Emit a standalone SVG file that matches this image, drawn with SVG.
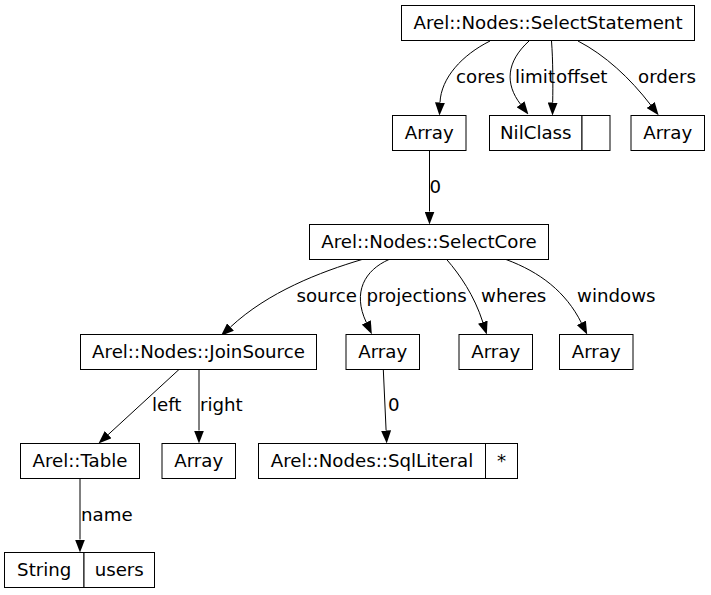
<svg xmlns="http://www.w3.org/2000/svg" width="711" height="595" viewBox="0 0 711 595">
<defs>
<style>
.box{fill:#fff;stroke:#000;stroke-width:1}
.t{font-family:"DejaVu Sans",sans-serif;font-size:18.2px;fill:#000;text-anchor:middle}
.l{font-family:"DejaVu Sans",sans-serif;font-size:18.2px;fill:#000;text-anchor:start}
.e{fill:none;stroke:#000;stroke-width:1}
</style>
<marker id="ah" markerUnits="userSpaceOnUse" viewBox="0 0 13 10" refX="0" refY="5" markerWidth="13" markerHeight="10" orient="auto">
<path d="M0,0 L13,5 L0,10 z" fill="#000"/>
</marker>
</defs>
<rect width="711" height="595" fill="#fff"/>

<g id="connectors">
<path class="e" marker-end="url(#ah)" d="M490,41 C462,55 441,78 440,102.5"/>
<path class="e" marker-end="url(#ah)" d="M529,41 C506,62 505,84 520.5,104.2"/>
<path class="e" marker-end="url(#ah)" d="M551.5,41 C553,60 553,85 552.7,102.5"/>
<path class="e" marker-end="url(#ah)" d="M578,41 C605,55 630,78 650.7,105"/>
<path class="e" marker-end="url(#ah)" d="M429.5,150.5 L429.5,211.5"/>
<path class="e" marker-end="url(#ah)" d="M362,259.5 C320,272 268,292 230.5,327"/>
<path class="e" marker-end="url(#ah)" d="M389,259.5 C365,270 352,292 366.3,322.4"/>
<path class="e" marker-end="url(#ah)" d="M446.7,259.5 C460,275 474,295 482.8,322.1"/>
<path class="e" marker-end="url(#ah)" d="M506,259.5 C540,272 566,292 581.4,322.9"/>
<path class="e" marker-end="url(#ah)" d="M179,369.5 L108.1,434.7"/>
<path class="e" marker-end="url(#ah)" d="M199,369.5 L199,430.5"/>
<path class="e" marker-end="url(#ah)" d="M383.3,369.5 L386.1,430.5"/>
<path class="e" marker-end="url(#ah)" d="M80,478.5 L80,539.5"/>
<text class="l" x="456" y="83">cores</text>
<text class="l" x="515" y="83">limit</text>
<text class="l" x="556" y="83">offset</text>
<text class="l" x="638" y="83">orders</text>
<text class="l" x="429.5" y="192.5">0</text>
<text class="l" x="296.5" y="302">source</text>
<text class="l" x="366.5" y="302">projections</text>
<text class="l" x="481" y="302">wheres</text>
<text class="l" x="577" y="302">windows</text>
<text class="l" x="152" y="411">left</text>
<text class="l" x="200" y="411">right</text>
<text class="l" x="388" y="411">0</text>
<text class="l" x="81" y="521">name</text>
</g>

<g id="selectstatement">
<rect class="box" x="401.5" y="5.5" width="293" height="35"/>
<text class="t" x="548" y="29">Arel::Nodes::SelectStatement</text>
</g>
<g id="array_cores">
<rect class="box" x="392.5" y="115.5" width="73.5" height="35"/>
<text class="t" x="429.25" y="139">Array</text>
</g>
<g id="nilclass">
<rect class="box" x="489.5" y="115.5" width="92.5" height="35"/>
<rect class="box" x="582" y="115.5" width="28" height="35"/>
<text class="t" x="535.75" y="139">NilClass</text>
</g>
<g id="array_orders">
<rect class="box" x="631" y="115.5" width="73.5" height="35"/>
<text class="t" x="667.75" y="139">Array</text>
</g>
<g id="selectcore">
<rect class="box" x="309.5" y="224.5" width="239" height="35"/>
<text class="t" x="429" y="248">Arel::Nodes::SelectCore</text>
</g>
<g id="joinsource">
<rect class="box" x="80.5" y="334.5" width="236" height="35"/>
<text class="t" x="198.5" y="358">Arel::Nodes::JoinSource</text>
</g>
<g id="array_projections">
<rect class="box" x="346" y="334.5" width="73.5" height="35"/>
<text class="t" x="382.75" y="358">Array</text>
</g>
<g id="array_wheres">
<rect class="box" x="459" y="334.5" width="73.5" height="35"/>
<text class="t" x="495.75" y="358">Array</text>
</g>
<g id="array_windows">
<rect class="box" x="559.5" y="334.5" width="73.5" height="35"/>
<text class="t" x="596.25" y="358">Array</text>
</g>
<g id="table">
<rect class="box" x="20.5" y="443.5" width="119" height="35"/>
<text class="t" x="80" y="467">Arel::Table</text>
</g>
<g id="array_right">
<rect class="box" x="162" y="443.5" width="73.5" height="35"/>
<text class="t" x="198.75" y="467">Array</text>
</g>
<g id="sqlliteral">
<rect class="box" x="258.5" y="443.5" width="227" height="35"/>
<rect class="box" x="485.5" y="443.5" width="32" height="35"/>
<text class="t" x="372" y="467">Arel::Nodes::SqlLiteral</text>
<text class="t" x="501.5" y="467">*</text>
</g>
<g id="string">
<rect class="box" x="4.5" y="552.5" width="79.5" height="35"/>
<rect class="box" x="84" y="552.5" width="70.5" height="35"/>
<text class="t" x="44.25" y="576">String</text>
<text class="t" x="119.25" y="576">users</text>
</g>
</svg>
